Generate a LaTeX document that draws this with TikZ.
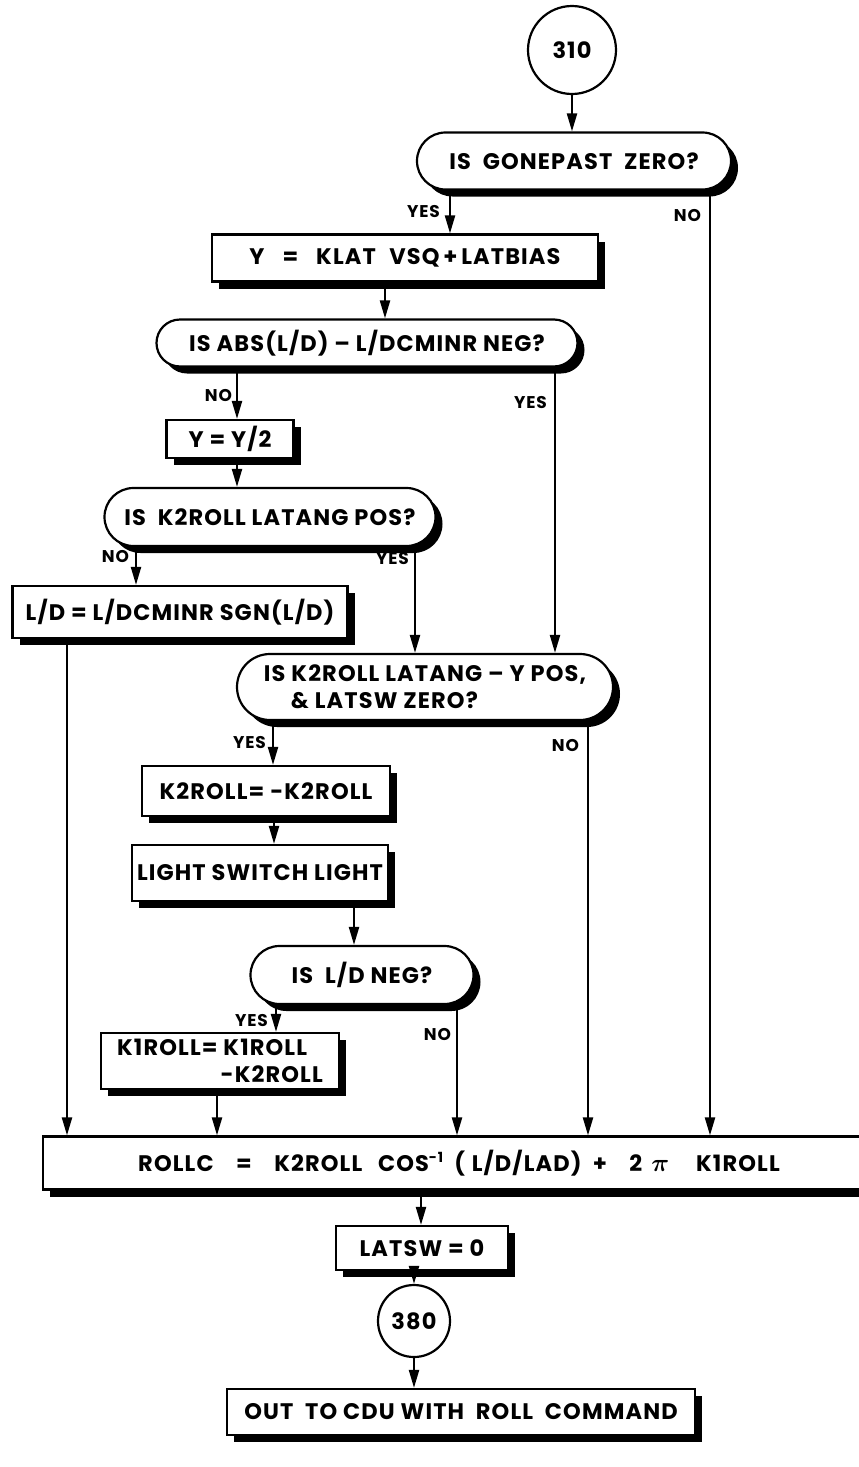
\documentclass[tikz,border=0pt]{standalone}
\usepackage{fontspec}
\setmainfont{Poppins}[LetterSpace=5]
\usetikzlibrary{arrows.meta,shapes.misc,shadows}

\begin{document}
\begin{tikzpicture}[x=1pt,y=-1pt,line width=2.2pt,
    >={Triangle[length=18pt,width=10pt]},
    font=\fontsize{22.5}{27}\selectfont\bfseries,
    dropbox/.style={drop shadow={shadow xshift=7pt,shadow yshift=-7pt,opacity=1,fill=black}},
    proc/.style={draw,fill=white,rectangle,dropbox,inner sep=2pt},
    ask/.style={draw,fill=white,rounded rectangle,dropbox,inner sep=2pt},
    conn/.style={draw,fill=white,circle,inner sep=0pt},
    branch/.style={font=\fontsize{17}{19}\selectfont\bfseries,anchor=east,inner sep=1pt}]
    \useasboundingbox (0,0) rectangle (859,1467);

    % Entry and tests
    \node[conn,minimum size=88pt] (c310) at (572,50) {310};
    \node[ask,minimum width=318pt,minimum height=57pt] (d1) at (574,161) {IS\ \ GONEPAST\ \ ZERO?};
    \node[proc,minimum width=386pt,minimum height=47pt] (b1) at (405,258)
        {Y\hspace{0.8em}=\hspace{0.8em}KLAT\hspace{0.6em}VSQ\,+\,LATBIAS};
    \node[ask,minimum width=425pt,minimum height=47pt] (d2) at (367,343) {IS ABS(L/D) -- L/DCMINR NEG?};
    \node[proc,minimum width=127pt,minimum height=38pt] (b2) at (230,439) {Y = Y/2};
    \node[ask,minimum width=335pt,minimum height=58pt] (d3) at (270,517) {IS\ \ K2ROLL LATANG POS?};
    \node[proc,minimum width=335pt,minimum height=52pt] (b3) at (180,612) {L/D = L/DCMINR SGN(L/D)};
    \node[ask,minimum width=380pt,minimum height=66pt,align=left] (d4) at (425,687)
        {IS K2ROLL LATANG -- Y POS,\\\hspace*{1.2em}\& LATSW ZERO?};

    % Switch branch
    \node[proc,minimum width=248pt,minimum height=50pt] (b4) at (266,791) {K2ROLL= -K2ROLL};
    \node[proc,minimum width=256pt,minimum height=56pt] (b5) at (260,873) {LIGHT SWITCH LIGHT};
    \node[ask,minimum width=227pt,minimum height=58pt] (d5) at (362,975) {IS\ \ L/D NEG?};
    \node[proc,minimum width=238pt,minimum height=56pt,align=left] (b6) at (220,1061)
        {K1ROLL= K1ROLL\\\hspace*{4.6em}-K2ROLL};

    % Roll command
    \node[proc,minimum width=832pt,minimum height=53pt] (b7) at (459,1163)
        {ROLLC\hspace{1em}=\hspace{1em}K2ROLL\hspace{0.7em}COS\raisebox{0.7ex}{\fontsize{14}{14}\selectfont -1}\hspace{0.5em}(\hspace{0.3em}L/D/LAD)\hspace{0.5em}+\hspace{1em}2\hspace{0.4em}{\fontsize{34}{34}\selectfont\boldmath$\pi$}\hspace{1.2em}K1ROLL};
    \node[proc,minimum width=172pt,minimum height=44pt] (b8) at (422,1248) {LATSW = 0};
    \node[conn,minimum size=72pt] (c380) at (414,1321) {380};
    \node[proc,minimum width=468pt,minimum height=46pt] (b9) at (461,1412) {OUT\ \ TO CDU WITH\ \ ROLL\ \ COMMAND};

    % Connectors
    \draw[->] (c310) -- (c310 |- d1.north);
    \draw[->] ([xshift=-124pt]d1.south) -- ([xshift=45pt]b1.north);
    \draw[->] ([xshift=136pt]d1.south) -- ([xshift=251pt]b7.north);
    \draw[->] ([xshift=-20pt]b1.south) -- ([xshift=18pt]d2.north);
    \draw[->] ([xshift=-130pt]d2.south) -- ([xshift=7pt]b2.north);
    \draw[->] ([xshift=188pt]d2.south) -- ([xshift=130pt]d4.north);
    \draw[->] ([xshift=7pt]b2.south) -- ([xshift=-33pt]d3.north);
    \draw[->] ([xshift=-134pt]d3.south) -- ([xshift=-44pt]b3.north);
    \draw[->] ([xshift=145pt]d3.south) -- ([xshift=-10pt]d4.north);
    \draw[->] ([xshift=-113pt]b3.south) -- ([xshift=-392pt]b7.north);
    \draw[->] ([xshift=-152pt]d4.south) -- ([xshift=7pt]b4.north);
    \draw[->] ([xshift=163pt]d4.south) -- ([xshift=129pt]b7.north);
    \draw[->] ([xshift=8pt]b4.south) -- ([xshift=14pt]b5.north);
    \draw[->] ([xshift=94pt]b5.south) -- ([xshift=-8pt]d5.north);
    \draw[->] ([xshift=-86pt]d5.south) -- ([xshift=56pt]b6.north);
    \draw[->] ([xshift=95pt]d5.south) -- ([xshift=-2pt]b7.north);
    \draw[->] ([xshift=-3pt]b6.south) -- ([xshift=-242pt]b7.north);
    \draw[->] ([xshift=-38pt]b7.south) -- ([xshift=-1pt]b8.north);
    \draw[->] ([xshift=-8pt]b8.south) -- (c380);
    \draw[->] (c380) -- ([xshift=-47pt]b9.north);

    % Branch labels
    \node[branch] (y1) at (442,212) {YES};
    \node[branch] (n1) at (703,216) {NO};
    \node[branch] (n2) at (234,396) {NO};
    \node[branch] (y2) at (549,403) {YES};
    \node[branch] (n3) at (131,556) {NO};
    \node[branch] (y3) at (411,558) {YES};
    \node[branch] (y4) at (268,742) {YES};
    \node[branch] (n4) at (581,745) {NO};
    \node[branch] (y5) at (270,1020) {YES};
    \node[branch] (n5) at (453,1034) {NO};
\end{tikzpicture}
\end{document}
